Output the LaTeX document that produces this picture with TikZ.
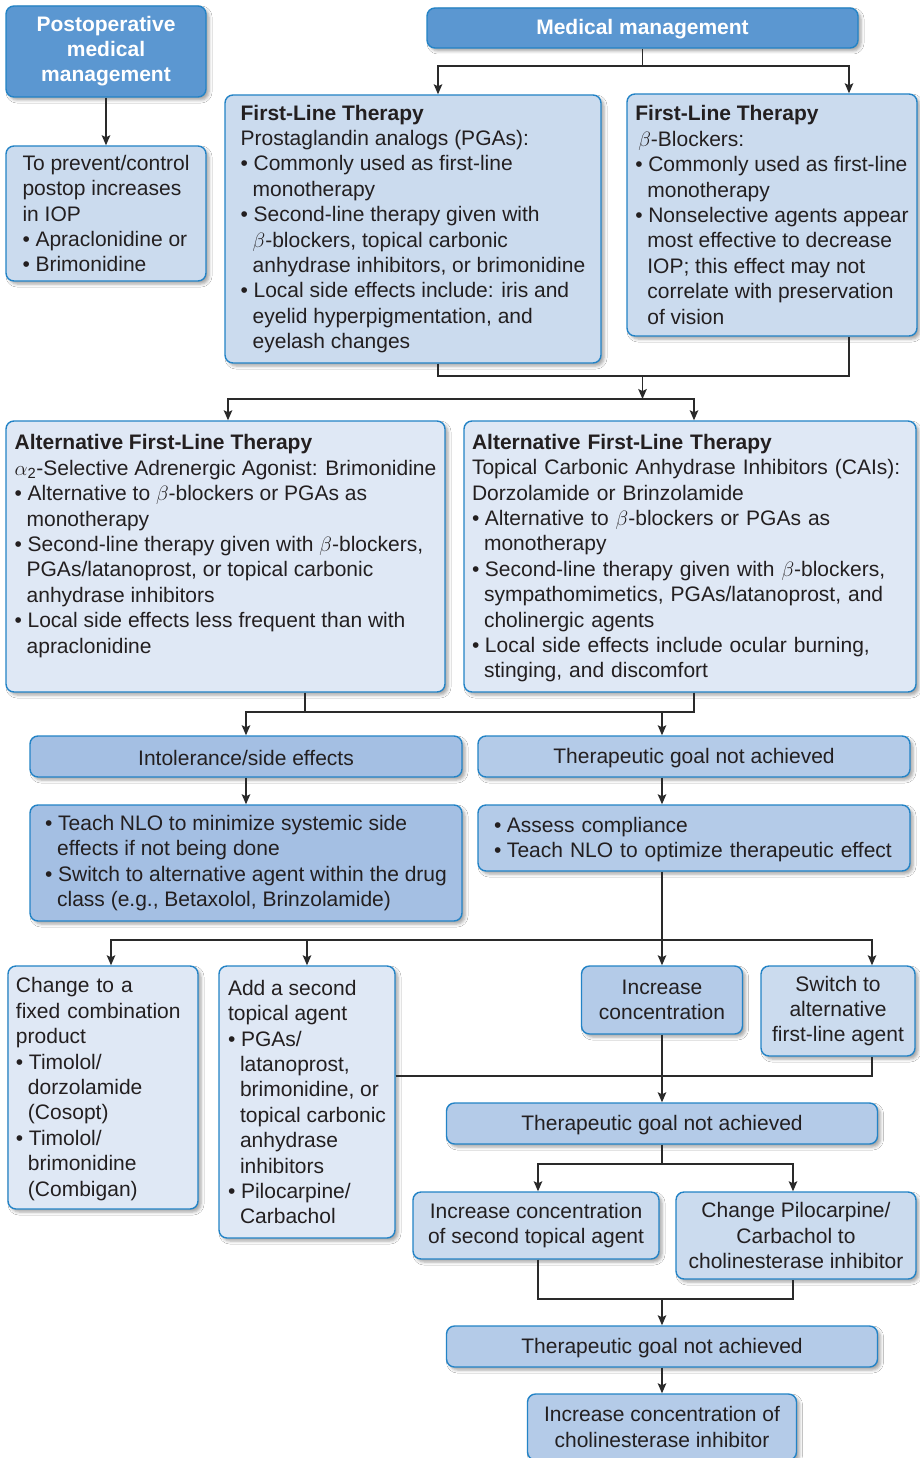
\documentclass[tikz,border=0pt]{standalone}
\usepackage{amsmath}
\usepackage{fontspec}
\setmainfont{Liberation Sans}
\usepackage{tikz}
\usetikzlibrary{arrows.meta,positioning,shadows.blur,calc}
\definecolor{edgec}{HTML}{2383C6}
\definecolor{headc}{HTML}{5B97D1}
\definecolor{lightc}{HTML}{CBDBEE}
\definecolor{palec}{HTML}{DFE8F5}
\definecolor{midc}{HTML}{A4BFE3}
\definecolor{goalc}{HTML}{B4CBE8}
\definecolor{txtc}{HTML}{231F20}
\definecolor{linec}{HTML}{2A2A2A}
\tikzset{
  bx/.style={draw=edgec,line width=1.4pt,rounded corners=8pt,text=txtc,align=left,inner sep=0pt,
    font=\fontsize{21}{25.4}\selectfont,execute at begin node={\rule{0pt}{18.4pt}},
    blur shadow={shadow xshift=3pt,shadow yshift=-3pt,shadow blur radius=3pt,shadow opacity=35}},
  hd/.style={bx,fill=headc,text=white,align=center,font=\fontsize{21}{25}\selectfont\bfseries},
  lt/.style={bx,fill=lightc},
  pl/.style={bx,fill=palec},
  md/.style={bx,fill=midc},
  gl/.style={bx,fill=goalc},
  sz/.style 2 args={minimum width=#1,minimum height=#2},
  ar/.style={-{Stealth[length=10pt,width=8.5pt,inset=2pt]},line width=1.5pt,linec},
  ln/.style={line width=1.5pt,linec}
}
\newcommand{\bul}{\makebox[13pt][l]{•}}
\newcommand{\ind}{\hspace*{12pt}}

\begin{document}
\begin{tikzpicture}[x=1pt,y=-1pt]
\useasboundingbox[fill=white] (0,0) rectangle (920,1458);

\node[hd,sz={200}{91}] (post) at (106,51.5) {Postoperative\\medical\\management};
\node[lt,sz={200}{135}] (prev) at (106,213.5) {To prevent/control\\postop increases\\in IOP\\\bul Apraclonidine or\\\bul Brimonidine};
\node[hd,sz={431}{40}] (med) at (642.5,28) {Medical management};

\node[lt,sz={376}{268}] (pga) at (413,229) {\textbf{First-Line Therapy}\\
Prostaglandin analogs (PGAs):\\
\bul Commonly used as first-line\\
\ind monotherapy\\
\bul Second-line therapy given with\\
\ind $\beta$-blockers, topical carbonic\\
\ind anhydrase inhibitors, or brimonidine\\
\bul Local side effects include: iris and\\
\ind eyelid hyperpigmentation, and\\
\ind eyelash changes};
\node[lt,sz={290}{242}] (beta) at (772,215) {\textbf{First-Line Therapy}\\
\hspace*{3pt}$\beta$-Blockers:\\
\bul Commonly used as first-line\\
\ind monotherapy\\
\bul Nonselective agents appear\\
\ind most effective to decrease\\
\ind IOP; this effect may not\\
\ind correlate with preservation\\
\ind of vision};

\node[pl,sz={439}{271}] (alta) at (225.5,556.5) {\textbf{Alternative First-Line Therapy}\\
$\alpha$\textsubscript{2}-Selective Adrenergic Agonist: Brimonidine\\
\bul Alternative to $\beta$-blockers or PGAs as\\
\ind monotherapy\\
\bul Second-line therapy given with $\beta$-blockers,\\
\ind PGAs/latanoprost, or topical carbonic\\
\ind anhydrase inhibitors\\
\bul Local side effects less frequent than with\\
\ind apraclonidine\\ \mbox{}};
\node[pl,sz={452}{271},inner xsep=8pt,text width=436pt] (altc) at (690,556.5) {\textbf{Alternative First-Line Therapy}\\
Topical Carbonic Anhydrase Inhibitors (CAIs):\\
Dorzolamide or Brinzolamide\\
\bul Alternative to $\beta$-blockers or PGAs as\\
\ind monotherapy\\
\bul Second-line therapy given with $\beta$-blockers,\\
\ind sympathomimetics, PGAs/latanoprost, and\\
\ind cholinergic agents\\
\bul Local side effects include ocular burning,\\
\ind stinging, and discomfort};

\node[md,sz={432}{41}] (intol) at (246,756.5) {Intolerance/side effects};
\node[gl,sz={432}{41}] (goal1) at (694,756.5) {Therapeutic goal not achieved};
\node[md,sz={432}{116}] (teach) at (246,863) {\bul Teach NLO to minimize systemic side\\
\ind effects if not being done\\
\bul Switch to alternative agent within the drug\\
\ind class (e.g., Betaxolol, Brinzolamide)};
\node[gl,sz={432}{66},inner xsep=16pt,text width=400pt] (assess) at (694,838) {\bul Assess compliance\\
\bul Teach NLO to optimize therapeutic effect};

\node[pl,sz={190}{243},inner xsep=8pt,text width=174pt] (fixed) at (103,1087.5) {Change to a\\
fixed combination\\
product\\
\bul Timolol/\\
\ind dorzolamide\\
\ind (Cosopt)\\
\bul Timolol/\\
\ind brimonidine\\
\ind (Combigan)};
\node[pl,sz={176}{272}] (addag) at (307,1102) {Add a second\\
topical agent\\
\bul PGAs/\\
\ind latanoprost,\\
\ind brimonidine, or\\
\ind topical carbonic\\
\ind anhydrase\\
\ind inhibitors\\
\bul Pilocarpine/\\
\ind Carbachol};
\node[gl,sz={161}{68},align=center] (incr) at (662,1000) {Increase\\concentration};
\node[lt,sz={154}{90},align=center] (switch) at (838,1011) {Switch to\\alternative\\first-line agent};

\node[gl,sz={431}{41}] (goal2) at (662,1123.5) {Therapeutic goal not achieved};
\node[lt,sz={246}{67},align=center] (incsec) at (536,1225.5) {Increase concentration\\of second topical agent};
\node[lt,sz={240}{87},align=center] (chpil) at (796,1235.5) {Change Pilocarpine/\\Carbachol to\\cholinesterase inhibitor};
\node[gl,sz={431}{41}] (goal3) at (662,1346.5) {Therapeutic goal not achieved};
\node[gl,sz={269}{66},align=center] (incch) at (662,1427) {Increase concentration of\\cholinesterase inhibitor};

\coordinate (j1) at (642.5,66);
\coordinate (j2) at (642.5,376);
\coordinate (j3) at (642.5,399);
\coordinate (j4) at (246,712);
\coordinate (j5) at (662,940);
\coordinate (j6) at (0,1076);
\coordinate (j7) at (662,1164);
\coordinate (j8) at (662,1299);

\draw[ar] (post) -- (prev);
\draw[ln] (med.south) -- (j1);
\draw[ar] (j1) -| ([xshift=25]pga.north);
\draw[ar] (j1) -| ([xshift=77]beta.north);
\draw[ln] ([xshift=25]pga.south) |- (j2) -| ([xshift=77]beta.south);
\draw[ar] (j2) -- (j3);
\draw[ar] (j3) -| ([xshift=2.5]alta.north);
\draw[ar] (j3) -| ([xshift=4]altc.north);
\draw[ln] ([xshift=79.5]alta.south) -- ++(0,20);
\draw[ar] ([xshift=4]altc.south) |- (j4) -- (intol.north);
\draw[ar] ([xshift=-32]goal1.north |- j4) -- ([xshift=-32]goal1.north);
\draw[ar] (intol) -- (teach);
\draw[ar] ([xshift=-32]goal1.south) -- ([xshift=-32]assess.north);
\draw[ar] ([xshift=-32]assess.south) -- (incr.north);
\draw[ar] (j5) -| ([xshift=8]fixed.north);
\draw[ar] (j5) -| (addag.north);
\draw[ar] (j5) -| ([xshift=34]switch.north);
\draw[ar] (incr) -- (goal2);
\draw[ln] (addag.east |- j6) -| ([xshift=34]switch.south);
\draw[ln] (goal2.south) -- (j7);
\draw[ar] (j7) -| ([xshift=2]incsec.north);
\draw[ar] (j7) -| ([xshift=-3]chpil.north);
\draw[ln] ([xshift=2]incsec.south) |- (j8) -| ([xshift=-3]chpil.south);
\draw[ar] (j8) -- (goal3);
\draw[ar] (goal3) -- (incch);
\end{tikzpicture}
\end{document}
